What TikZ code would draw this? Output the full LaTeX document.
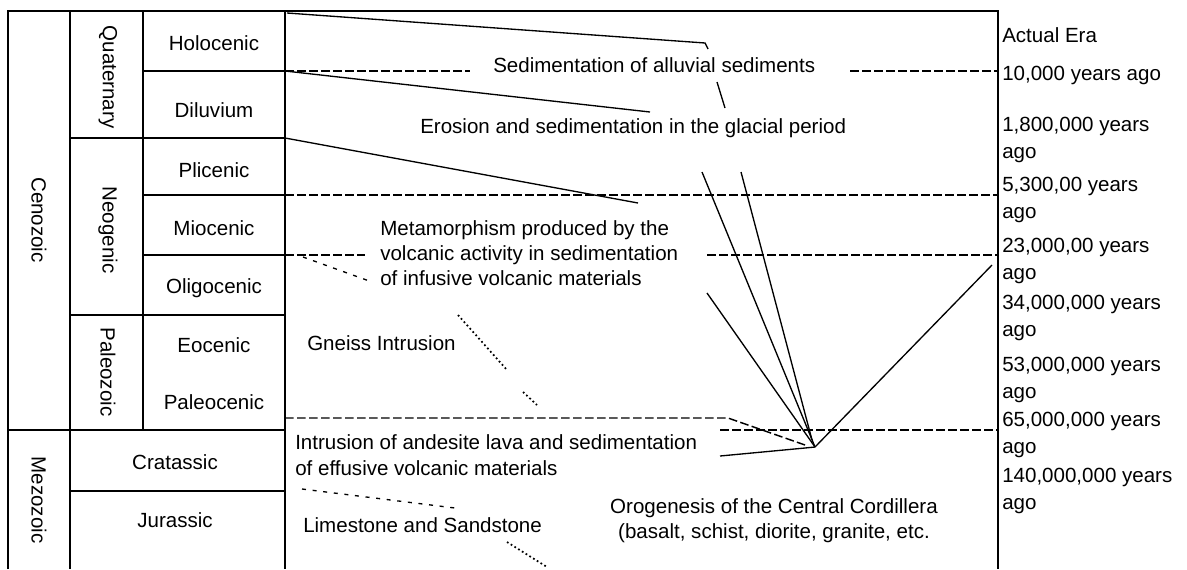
\documentclass[tikz,border=0pt]{standalone}
\usepackage{fontspec}
\setmainfont{Liberation Sans}
\usetikzlibrary{positioning}

\begin{document}
\begin{tikzpicture}[x=0.75pt,y=-0.75pt,font=\fontsize{15.4}{19}\selectfont,
  cell/.style={inner sep=0pt,anchor=center},
  note/.style={inner sep=0pt,align=left,anchor=west},
  agebox/.style={inner sep=0pt,align=left,anchor=west,font=\fontsize{15.4}{19.8}\selectfont},
  grid/.style={line width=1.3pt},
  link/.style={line width=1pt},
  guide/.style={line width=1.1pt,dash pattern=on 6.5pt off 2.5pt},
  faint/.style={line width=1pt,dash pattern=on 3pt off 5pt}]
\useasboundingbox (0,0) rectangle (1187,569);
% table
\draw[grid] (8,569) -- (8,11) -- (998,11) -- (998,569);
\draw[grid] (70,11) -- (70,569); \draw[grid] (143,11) -- (143,430); \draw[grid] (285,11) -- (285,569);
\foreach \y in {71,195,255} \draw[grid] (143,\y) -- (285,\y);
\foreach \y in {138,315,491} \draw[grid] (70,\y) -- (285,\y);
\draw[grid] (8,430) -- (285,430);
\node[cell,rotate=-90](cenozoic) at (39,220){Cenozoic};
\node[cell,rotate=-90](mezozoic) at (39,500){Mezozoic};
\node[cell,rotate=-90](quaternary) at (108,77){Quaternary};
\node[cell,rotate=-90](neogenic) at (108,230){Neogenic};
\node[cell,rotate=-90](paleozoic) at (108,372){Paleozoic};
\node[cell](holocenic) at (214,43){Holocenic};
\node[cell](diluvium) at (214,110){Diluvium};
\node[cell](plicenic) at (214,170){Plicenic};
\node[cell](miocenic) at (214,228){Miocenic};
\node[cell](oligocenic) at (214,288){Oligocenic};
\node[cell](eocenic) at (214,345){Eocenic};
\node[cell](paleocenic) at (214,402){Paleocenic};
\node[cell](cratassic) at (175,462){Cratassic};
\node[cell](jurassic) at (175,520){Jurassic};
% events
\node[note](alluvial) at (493,65){Sedimentation of alluvial sediments};
\node[note](glacial) at (420,128){Erosion and sedimentation in the glacial period};
\node[note](metamorph) at (380,253){Metamorphism produced by the\\volcanic activity in sedimentation\\of infusive volcanic materials};
\node[note](gneiss) at (307,343){Gneiss Intrusion};
\node[note](andesite) at (295,455){Intrusion of andesite lava and sedimentation\\of effusive volcanic materials};
\node[note](limestone) at (303,525){Limestone and Sandstone};
\node[note,align=center,anchor=center](orogenesis) at (774,521){Orogenesis of the Central Cordillera\\(basalt, schist, diorite, granite, etc.};
% ages
\node[agebox](actual) at (1002,35){Actual Era};
\node[agebox](a10k) at (1002,75){10,000 years ago};
\node[agebox](a1m8) at (1002,140){1,800,000 years\\ago};
\node[agebox](a5m3) at (1002,200){5,300,00 years\\ago};
\node[agebox](a23m) at (1002,261){23,000,00 years\\ago};
\node[agebox](a34m) at (1002,318){34,000,000 years\\ago};
\node[agebox](a53m) at (1002,380){53,000,000 years\\ago};
\node[agebox](a65m) at (1002,435){65,000,000 years\\ago};
\node[agebox](a140m) at (1002,491){140,000,000 years\\ago};
% connectors
\coordinate (oro) at (815,447);
\coordinate (holo) at (287,13); \coordinate (holoend) at (705,43);
\coordinate (dilu) at (285,71); \coordinate (diluend) at (650,112);
\coordinate (plic) at (285,138); \coordinate (plicend) at (638,203);
\draw[link] (holo) -- (holoend) -- (708,49);
\draw[link] (717,82) -- (725,108);
\draw[link] (741,172) -- (812,440);
\draw[link] (702,172) -- (oro);
\draw[link] (707,293) -- (oro);
\draw[link] (720,456) -- (805,448) -- (oro) -- (992,265);
\draw[link] (dilu) -- (diluend);
\draw[link] (plic) -- (plicend);
\draw[guide] (dilu) -- (470,71); \draw[guide] (850,71) -- (998,71);
\draw[guide] (285,195) -- (998,195);
\draw[guide] (285,255) -- (365,255); \draw[guide] (707,255) -- (998,255);
\draw[guide] (720,430) -- (998,430);
\draw[guide] (285,418) -- (728,418) -- (805,445);
\draw[faint] (303,257) -- (372,282);
\draw[faint] (302,489) -- (455,508);
\draw[link,line width=1.3pt,dotted] (458,315) -- (507,370); \draw[link,line width=1.3pt,dotted] (523,392) -- (537,405);
\draw[link,line width=1.3pt,dotted] (507,542) -- (547,567);
\end{tikzpicture}
\end{document}
